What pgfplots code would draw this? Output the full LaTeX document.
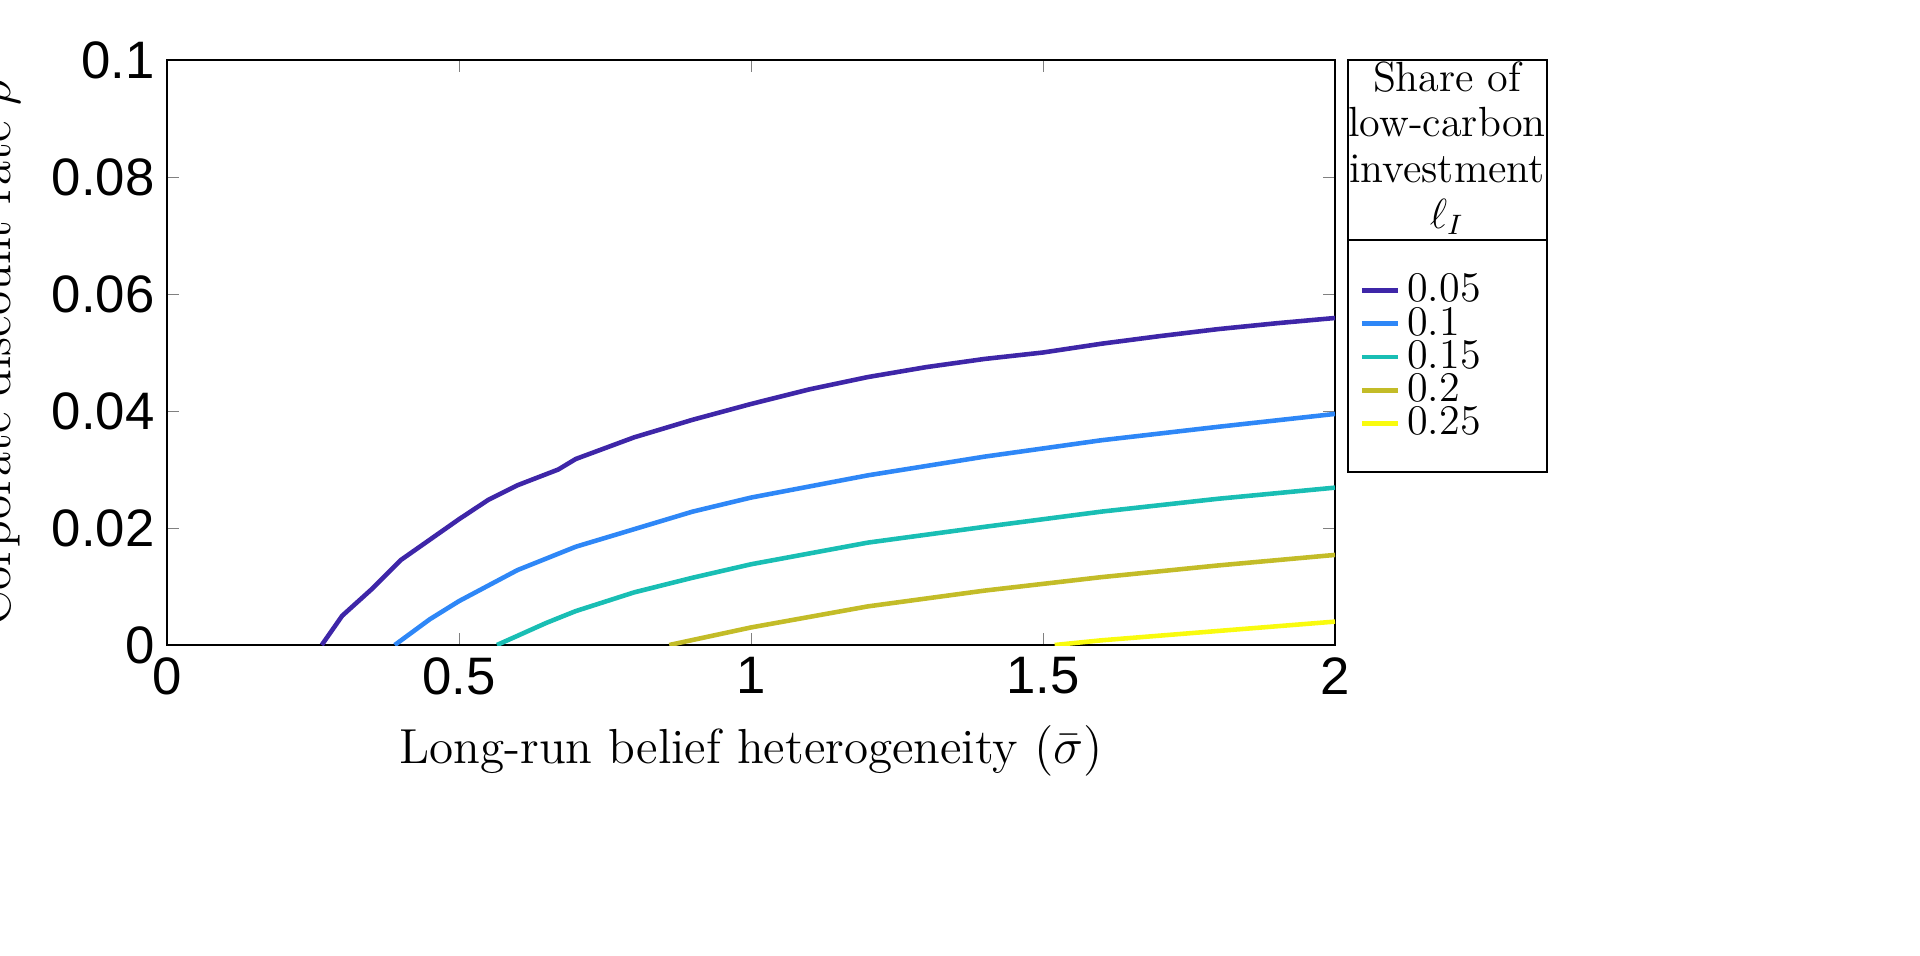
\documentclass[border=0pt]{standalone}
\usepackage{fontspec}
\usepackage{pgfplots}
\pgfplotsset{compat=1.18}
\newfontfamily\arial{Liberation Sans}
\definecolor{c1}{RGB}{62,38,168}
\definecolor{c2}{RGB}{46,135,247}
\definecolor{c3}{RGB}{25,190,180}
\definecolor{c4}{RGB}{195,188,40}
\definecolor{c5}{RGB}{249,251,14}
\begin{document}
\begin{tikzpicture}[x=1cm,y=1cm]
\begin{axis}[at={(1.67cm,3.10cm)},anchor=south west,
  width=11.68cm,height=5.85cm,scale only axis,
  xmin=0,xmax=2,ymin=0,ymax=0.1,
  xtick={0,0.5,1,1.5,2},ytick={0,0.02,0.04,0.06,0.08,0.1},
  tick align=inside,major tick length=0.12cm,
  tick label style={font=\arial\fontsize{15}{15}\selectfont},
  /pgf/number format/assume math mode=true,
  scaled y ticks=false,
  yticklabel style={/pgf/number format/fixed,/pgf/number format/precision=2},
  xticklabel style={/pgf/number format/fixed},
  xlabel={Long-run belief heterogeneity $(\bar\sigma)$},
  ylabel={Corporate discount rate $\rho$},
  label style={font=\fontsize{14}{14}\selectfont},
  xlabel style={yshift=-2pt},
  ylabel style={yshift=2pt},
  every axis plot/.append style={line width=1.3pt},
  legend style={at={(1.0115,0.66)},anchor=north west,draw=none,fill=none,
    font=\fontsize{12}{12}\selectfont,row sep=-4pt,
    legend cell align=left},
  legend image post style={xscale=0.6},
]
\addplot[c1] coordinates {(0.265,0)(0.3,0.005)(0.35,0.0095)(0.4,0.0145)(0.45,0.018)(0.5,0.0215)(0.55,0.0248)(0.6,0.0273)(0.67,0.030)(0.7,0.0318)(0.8,0.0355)(0.9,0.0385)(1.0,0.0412)(1.1,0.0437)(1.2,0.0458)(1.3,0.0475)(1.4,0.0489)(1.5,0.050)(1.6,0.0515)(1.7,0.0528)(1.8,0.0540)(1.9,0.055)(2.0,0.0559)};
\addlegendentry{0.05}
\addplot[c2] coordinates {(0.39,0)(0.45,0.0044)(0.5,0.0075)(0.6,0.0128)(0.7,0.0168)(0.8,0.0198)(0.9,0.0228)(1.0,0.0252)(1.2,0.0290)(1.4,0.0322)(1.6,0.0350)(1.8,0.0373)(2.0,0.0395)};
\addlegendentry{0.1}
\addplot[c3] coordinates {(0.565,0)(0.65,0.0038)(0.7,0.0058)(0.8,0.0090)(0.9,0.0115)(1.0,0.0138)(1.2,0.0175)(1.4,0.0202)(1.6,0.0228)(1.8,0.0250)(2.0,0.0269)};
\addlegendentry{0.15}
\addplot[c4] coordinates {(0.86,0)(1.0,0.003)(1.2,0.0066)(1.4,0.0093)(1.6,0.0116)(1.8,0.0136)(2.0,0.0154)};
\addlegendentry{0.2}
\addplot[c5] coordinates {(1.52,0)(1.6,0.0008)(1.8,0.0024)(2.0,0.0040)};
\addlegendentry{0.25}
\end{axis}
\draw[line width=0.5pt] (13.48,4.83) rectangle (15.47,8.95);
\draw[line width=0.5pt] (13.48,7.15) -- (15.47,7.15);
\node[align=center,font=\fontsize{12}{13}\selectfont] at (14.47,8.07) {Share of\\low-carbon\\investment\\$\ell_I$};
\pgfresetboundingbox
\path[use as bounding box] (0,0) rectangle (19.2,9.55);
\end{tikzpicture}
\end{document}
